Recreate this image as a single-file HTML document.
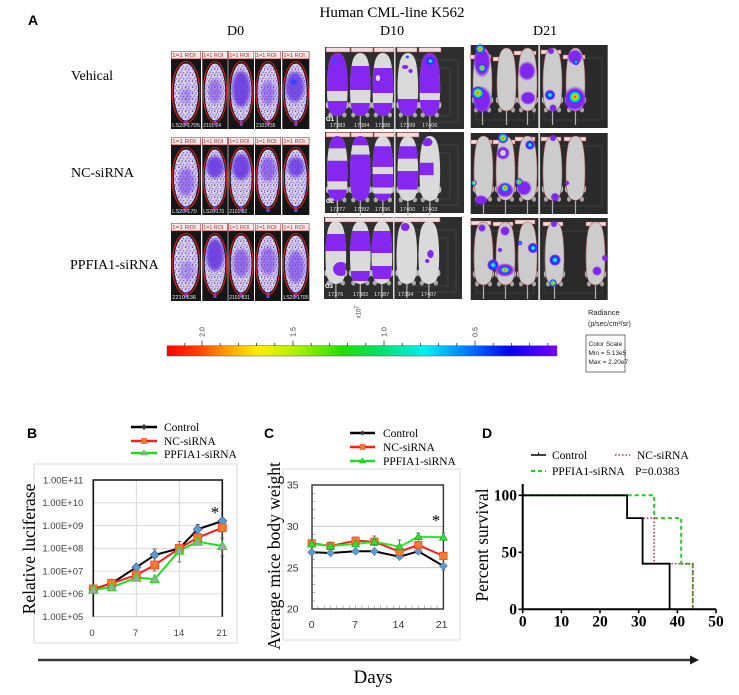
<!DOCTYPE html>
<html><head><meta charset="utf-8"><style>
html,body{margin:0;padding:0;background:#fff;}
svg{display:block;}
</style></head><body>
<svg width="739" height="695" viewBox="0 0 739 695" xmlns="http://www.w3.org/2000/svg" font-family="Liberation Serif, serif">
<defs>
 <pattern id="sp" width="6" height="6" patternUnits="userSpaceOnUse">
  <rect x="0" y="0" width="1.2" height="1.1" fill="#6b3be6"/>
  <rect x="3" y="0.6" width="1.1" height="1.2" fill="#7a45f0"/>
  <rect x="1.5" y="2.6" width="1.4" height="1" fill="#5e2fd8"/>
  <rect x="4.4" y="3" width="1" height="1.2" fill="#7040ea"/>
  <rect x="0.4" y="4.6" width="1.1" height="1.1" fill="#6a3ae4"/>
  <rect x="3" y="4.9" width="1.3" height="0.9" fill="#7b48f2"/>
 </pattern>
 <filter id="bl" x="-50%" y="-50%" width="200%" height="200%"><feGaussianBlur stdDeviation="1.6"/></filter>
 <filter id="bl2" x="-50%" y="-50%" width="200%" height="200%"><feGaussianBlur stdDeviation="0.8"/></filter>
 <radialGradient id="hot"><stop offset="0" stop-color="#ff1000"/><stop offset=".25" stop-color="#ffd000"/><stop offset=".42" stop-color="#30ee20"/><stop offset=".58" stop-color="#00d8ff"/><stop offset=".72" stop-color="#1040ff"/><stop offset=".86" stop-color="#8026f0"/><stop offset="1" stop-color="#8026f0" stop-opacity="0"/></radialGradient>
 <radialGradient id="ring"><stop offset="0" stop-color="#a0e8ff"/><stop offset=".35" stop-color="#00a0ff"/><stop offset=".55" stop-color="#0030ff"/><stop offset=".8" stop-color="#8026f0"/><stop offset="1" stop-color="#8026f0" stop-opacity="0"/></radialGradient>
 <radialGradient id="pur"><stop offset="0" stop-color="#8026f0"/><stop offset=".7" stop-color="#8026f0"/><stop offset="1" stop-color="#8026f0" stop-opacity="0"/></radialGradient>
 <linearGradient id="cb" x1="0" x2="1" y1="0" y2="0">
  <stop offset="0" stop-color="#ff0000"/><stop offset=".08" stop-color="#ff4000"/><stop offset=".15" stop-color="#ff9900"/><stop offset=".23" stop-color="#ffee00"/><stop offset=".33" stop-color="#b0f000"/><stop offset=".45" stop-color="#20e000"/><stop offset=".55" stop-color="#00e070"/><stop offset=".66" stop-color="#00f0f0"/><stop offset=".78" stop-color="#0070ff"/><stop offset=".88" stop-color="#0000f0"/><stop offset="1" stop-color="#7a00ff"/>
 </linearGradient>
 <path id="mb" d="M10.5,0 C15,0 17.5,5 18.5,12 C20.5,24 20.5,44 19,54 C18,60 14.5,63 10.5,63 C6.5,63 3,60 2,54 C0.5,44 0.5,24 2.5,12 C3.5,5 6,0 10.5,0 Z"/>
 <clipPath id="mc"><path d="M10.5,0 C15,0 17.5,5 18.5,12 C20.5,24 20.5,44 19,54 C18,60 14.5,63 10.5,63 C6.5,63 3,60 2,54 C0.5,44 0.5,24 2.5,12 C3.5,5 6,0 10.5,0 Z"/></clipPath>
 <g id="ml">
  <ellipse cx="2" cy="52" rx="2.2" ry="3.5" fill="#b8b8b8"/><ellipse cx="19" cy="52" rx="2.2" ry="3.5" fill="#b8b8b8"/>
  <ellipse cx="4" cy="62" rx="2" ry="2.5" fill="#aaa"/><ellipse cx="17" cy="62" rx="2" ry="2.5" fill="#aaa"/>
  <path d="M10.5,62 L10.5,77" stroke="#b0b0b0" stroke-width="1.2"/>
 </g>
 <g id="d0">
  <rect width="26" height="78" fill="#151515"/>
  <rect x="0.3" y="0.3" width="25.4" height="7.5" fill="#f7eaea" stroke="#c04848" stroke-width=".6"/>
  <text x="1" y="6.2" font-size="5.5" fill="#b52b2b" font-family="Liberation Sans, sans-serif">1=1 ROI</text>
  <ellipse cx="13" cy="41" rx="10.5" ry="28.5" fill="#dadade"/>
  <ellipse cx="13" cy="41" rx="10.5" ry="28.5" fill="url(#sp)"/>
  <rect x="11.5" y="69" width="3" height="6" fill="#5a4cf0"/>
 </g>
 <g id="roi"><ellipse cx="13" cy="41" rx="12" ry="30.5" fill="none" stroke="#d42020" stroke-width="1.1"/></g>
</defs>

<rect width="739" height="695" fill="#fff"/>

<!-- Titles -->
<text x="28" y="25" font-family="Liberation Sans, sans-serif" font-weight="bold" font-size="14">A</text>
<text x="392" y="17" text-anchor="middle" font-size="15">Human CML-line K562</text>
<text x="227" y="35" font-size="14">D0</text>
<text x="380" y="35" font-size="14">D10</text>
<text x="533" y="35" font-size="14">D21</text>
<text x="71" y="80" font-size="14">Vehical</text>
<text x="71" y="177" font-size="14">NC-siRNA</text>
<text x="70" y="269" font-size="14">PPFIA1-siRNA</text>

<!-- D0 panels -->
<g font-family="Liberation Sans, sans-serif">
<g transform="translate(171,51) scale(1.154,1)"><use href="#d0"/><ellipse cx="13" cy="45" rx="5" ry="8" fill="#6d35e6" opacity=".35" filter="url(#bl)"/><use href="#roi"/><text x="1" y="76" font-size="5" fill="#e8e8e8">LS20 1705</text></g>
<g transform="translate(202.3,51) scale(.977,1)"><use href="#d0"/><ellipse cx="13" cy="40" rx="7" ry="12" fill="#6d35e6" opacity=".5" filter="url(#bl)"/><use href="#roi"/><text x="1" y="76" font-size="5" fill="#e8e8e8">2101 24</text></g>
<g transform="translate(228.3,51) scale(.99,1)"><use href="#d0"/><ellipse cx="13" cy="38" rx="9" ry="18" fill="#6430e2" opacity=".85" filter="url(#bl)"/><use href="#roi"/></g>
<g transform="translate(255,51)"><use href="#d0"/><ellipse cx="13" cy="42" rx="7" ry="12" fill="#6d35e6" opacity=".5" filter="url(#bl)"/><use href="#roi"/><text x="1" y="76" font-size="5" fill="#e8e8e8">2101735</text></g>
<g transform="translate(282.3,51) scale(1.04,1)"><use href="#d0"/><ellipse cx="12" cy="36" rx="9" ry="15" fill="#6430e2" opacity=".8" filter="url(#bl)"/><circle cx="11" cy="31" r="3" fill="#3040ff" filter="url(#bl2)"/><use href="#roi"/></g>
<g transform="translate(171,137) scale(1.154,1)"><use href="#d0"/><ellipse cx="13" cy="45" rx="7" ry="14" fill="#6d35e6" opacity=".55" filter="url(#bl)"/><use href="#roi"/><text x="1" y="76" font-size="5" fill="#e8e8e8">LS20 170</text></g>
<g transform="translate(202.3,137) scale(.977,1)"><use href="#d0"/><ellipse cx="13" cy="30" rx="9" ry="11" fill="#6430e2" opacity=".85" filter="url(#bl)"/><use href="#roi"/><text x="1" y="76" font-size="5" fill="#e8e8e8">LS20 170</text></g>
<g transform="translate(228.3,137) scale(.99,1)"><use href="#d0"/><ellipse cx="13" cy="30" rx="9" ry="13" fill="#6430e2" opacity=".85" filter="url(#bl)"/><use href="#roi"/><text x="1" y="76" font-size="5" fill="#e8e8e8">2101 82</text></g>
<g transform="translate(255,137)"><use href="#d0"/><ellipse cx="13" cy="32" rx="8" ry="12" fill="#6d35e6" opacity=".6" filter="url(#bl)"/><use href="#roi"/></g>
<g transform="translate(282.3,137) scale(1.04,1)"><use href="#d0"/><ellipse cx="13" cy="30" rx="8" ry="10" fill="#6430e2" opacity=".8" filter="url(#bl)"/><use href="#roi"/></g>
<g transform="translate(171,223) scale(1.154,1)"><use href="#d0"/><ellipse cx="14" cy="48" rx="6" ry="10" fill="#6d35e6" opacity=".35" filter="url(#bl)"/><use href="#roi"/><text x="1" y="76" font-size="5" fill="#e8e8e8">2210 536</text></g>
<g transform="translate(202.3,223) scale(.977,1)"><use href="#d0"/><ellipse cx="13" cy="32" rx="9" ry="16" fill="#6430e2" opacity=".85" filter="url(#bl)"/><use href="#roi"/></g>
<g transform="translate(228.3,223) scale(.99,1)"><use href="#d0"/><ellipse cx="13" cy="40" rx="8" ry="14" fill="#6d35e6" opacity=".6" filter="url(#bl)"/><use href="#roi"/><text x="1" y="76" font-size="5" fill="#e8e8e8">2101 831</text></g>
<g transform="translate(255,223)"><use href="#d0"/><ellipse cx="13" cy="38" rx="8" ry="14" fill="#6d35e6" opacity=".55" filter="url(#bl)"/><use href="#roi"/></g>
<g transform="translate(282.3,223) scale(1.04,1)"><use href="#d0"/><ellipse cx="13" cy="44" rx="8" ry="16" fill="#6d35e6" opacity=".6" filter="url(#bl)"/><use href="#roi"/><text x="1" y="76" font-size="5" fill="#e8e8e8">LS20 1705</text></g>
</g>

<!-- D10 panels -->
<g font-family="Liberation Sans, sans-serif">
<rect x="325" y="47" width="139" height="82" fill="#2e2e2e"/>
<rect x="325" y="132" width="139" height="81" fill="#2e2e2e"/>
<rect x="324" y="217" width="138" height="82" fill="#2e2e2e"/>
<g stroke="#474747" stroke-width=".8" fill="none">
 <rect x="400" y="60" width="58" height="62"/><rect x="408" y="68" width="42" height="48"/>
 <rect x="400" y="145" width="58" height="60"/><rect x="408" y="153" width="42" height="46"/>
 <rect x="398" y="230" width="58" height="62"/><rect x="406" y="238" width="42" height="48"/>
</g>
<g fill="#f2dede" stroke="#c04848" stroke-width=".5">
 <rect x="326" y="47.5" width="24" height="4.5"/><rect x="351" y="47.5" width="22" height="4.5"/><rect x="374" y="47.5" width="20" height="4.5"/><rect x="397" y="47.5" width="20" height="4.5"/><rect x="419" y="47.5" width="22" height="4.5"/>
 <rect x="326" y="132.5" width="24" height="4.5"/><rect x="351" y="132.5" width="22" height="4.5"/><rect x="374" y="132.5" width="20" height="4.5"/><rect x="397" y="132.5" width="22" height="4.5"/>
 <rect x="325" y="217.5" width="115" height="4.5"/>
</g>
<g transform="translate(326,53) scale(1.08,1)"><use href="#ml"/><use href="#mb" fill="#dadada"/><g clip-path="url(#mc)"><rect y="0" width="21" height="38" fill="#8527f0"/><rect y="48" width="21" height="16" fill="#8527f0"/><circle cx="8" cy="8" r="2" fill="#3050ff"/></g></g>
<g transform="translate(349,53) scale(1.08,1)"><use href="#ml"/><use href="#mb" fill="#dadada"/><g clip-path="url(#mc)"><rect y="13" width="21" height="24" fill="#8527f0"/><rect y="50" width="21" height="14" fill="#8527f0"/></g></g>
<g transform="translate(371.5,53) scale(1.08,1)"><use href="#ml"/><use href="#mb" fill="#dadada"/><g clip-path="url(#mc)"><rect y="15" width="21" height="25" fill="#8527f0"/><rect y="50" width="21" height="14" fill="#8527f0"/><ellipse cx="6" cy="25" rx="2" ry="3" fill="#ddd"/></g></g>
<g transform="translate(396.5,53) scale(1.08,1)"><use href="#ml"/><use href="#mb" fill="#dadada"/><g clip-path="url(#mc)"><ellipse cx="8" cy="14" rx="3" ry="2" fill="#8527f0"/><ellipse cx="13" cy="18" rx="2" ry="2" fill="#8527f0"/><rect y="46" width="21" height="18" fill="#8527f0"/><circle cx="10" cy="4" r="1.5" fill="#3050ff"/></g></g>
<g transform="translate(418.5,53) scale(1.08,1)"><use href="#ml"/><use href="#mb" fill="#dadada"/><g clip-path="url(#mc)"><rect y="0" width="21" height="40" fill="#8527f0"/><rect y="47" width="21" height="17" fill="#8527f0"/><circle cx="11" cy="8" r="5" fill="url(#ring)"/></g></g>
<rect x="394" y="47" width="1.5" height="82" fill="#d8d8d8"/>
<text x="326" y="121" font-size="6" font-weight="bold" fill="#fff">G1</text>
<g font-size="5.5" fill="#e0e0e0"><text x="330" y="127">17383</text><text x="354" y="127">17384</text><text x="375" y="127">17388</text><text x="400" y="127">17399</text><text x="422" y="127">17406</text></g>
<g transform="translate(326,136) scale(1.08,1.03)"><use href="#ml"/><use href="#mb" fill="#dadada"/><g clip-path="url(#mc)"><rect y="0" width="21" height="12" fill="#8527f0"/><rect y="24" width="21" height="20" fill="#8527f0"/><rect y="52" width="21" height="14" fill="#8527f0"/></g></g>
<g transform="translate(349,136) scale(1.08,1.03)"><use href="#ml"/><use href="#mb" fill="#dadada"/><g clip-path="url(#mc)"><rect y="0" width="21" height="9" fill="#8527f0"/><rect y="18" width="21" height="48" fill="#8527f0"/></g></g>
<g transform="translate(371.5,136) scale(1.08,1.03)"><use href="#ml"/><use href="#mb" fill="#dadada"/><g clip-path="url(#mc)"><rect y="10" width="21" height="20" fill="#8527f0"/><rect y="37" width="21" height="13" fill="#8527f0"/><rect y="56" width="21" height="10" fill="#8527f0"/></g></g>
<g transform="translate(396.5,136) scale(1.08,1.03)"><use href="#ml"/><use href="#mb" fill="#dadada"/><g clip-path="url(#mc)"><rect y="10" width="21" height="12" fill="#8527f0"/><rect y="34" width="21" height="18" fill="#8527f0"/></g></g>
<g transform="translate(418.5,136) scale(1.08,1.03)"><use href="#ml"/><use href="#mb" fill="#dadada"/><g clip-path="url(#mc)"><ellipse cx="8" cy="6" rx="5" ry="4" fill="#8527f0"/><rect y="26" width="14" height="12" fill="#8527f0"/></g></g>
<rect x="394" y="132" width="1.5" height="81" fill="#d8d8d8"/>
<text x="326" y="203" font-size="6" font-weight="bold" fill="#fff">G2</text>
<g font-size="5.5" fill="#e0e0e0"><text x="330" y="211">17377</text><text x="354" y="211">17392</text><text x="375" y="211">17396</text><text x="400" y="211">17400</text><text x="422" y="211">17403</text></g>
<g transform="translate(324.5,221) scale(1.08,1)"><use href="#ml"/><use href="#mb" fill="#dadada"/><g clip-path="url(#mc)"><rect y="13" width="21" height="17" fill="#8527f0"/><ellipse cx="15" cy="48" rx="7" ry="7" fill="#8527f0"/></g></g>
<g transform="translate(349,221) scale(1.08,1)"><use href="#ml"/><use href="#mb" fill="#dadada"/><g clip-path="url(#mc)"><rect y="10" width="21" height="20" fill="#8527f0"/><rect y="50" width="21" height="10" fill="#8527f0"/></g></g>
<g transform="translate(370.5,221) scale(1.08,1)"><use href="#ml"/><use href="#mb" fill="#dadada"/><g clip-path="url(#mc)"><rect y="10" width="21" height="22" fill="#8527f0"/><rect y="45" width="21" height="13" fill="#8527f0"/></g></g>
<g transform="translate(395.5,221) scale(1.08,1)"><use href="#ml"/><use href="#mb" fill="#dadada"/><g clip-path="url(#mc)"><ellipse cx="9" cy="6" rx="4" ry="4" fill="#8527f0"/></g></g>
<g transform="translate(417.5,221) scale(1.08,1)"><use href="#ml"/><use href="#mb" fill="#dadada"/><g clip-path="url(#mc)"><ellipse cx="12" cy="33" rx="3" ry="4" fill="#8527f0"/><ellipse cx="9" cy="40" rx="2" ry="2" fill="#8527f0"/></g></g>
<rect x="393" y="217" width="1.5" height="82" fill="#d8d8d8"/>
<text x="325" y="288" font-size="6" font-weight="bold" fill="#fff">G3</text>
<g font-size="5.5" fill="#e0e0e0"><text x="328" y="296">17376</text><text x="353" y="296">17382</text><text x="374" y="296">17387</text><text x="398" y="296">17394</text><text x="421" y="296">17407</text></g>
</g>

<!-- D21 panels -->
<g>
<rect x="470.7" y="45" width="137" height="83" fill="#2a2a2a"/>
<rect x="470.7" y="133" width="137" height="81" fill="#2a2a2a"/>
<rect x="470.7" y="218" width="137" height="82" fill="#2a2a2a"/>
<g stroke="#444" stroke-width=".8" fill="none">
 <rect x="476" y="58" width="58" height="62"/><rect x="544" y="58" width="58" height="62"/>
 <rect x="476" y="146" width="58" height="60"/><rect x="544" y="146" width="58" height="60"/>
 <rect x="476" y="231" width="58" height="62"/><rect x="544" y="231" width="58" height="62"/>
</g>
<g fill="#f2dede" stroke="#c04848" stroke-width=".5">
 <rect x="470" y="55" width="21" height="4"/><rect x="493" y="57" width="20" height="4"/><rect x="514" y="51" width="22" height="4"/><rect x="541" y="50" width="20" height="4"/><rect x="563" y="55" width="22" height="4"/>
 <rect x="471" y="140" width="21" height="4"/><rect x="493" y="140" width="22" height="4"/><rect x="515" y="137" width="20" height="4"/><rect x="541" y="137" width="20" height="4"/><rect x="564" y="137" width="22" height="4"/>
 <rect x="471" y="221" width="20" height="4"/><rect x="493" y="222" width="20" height="4"/><rect x="515" y="220" width="20" height="4"/><rect x="543" y="222" width="20" height="4"/><rect x="586" y="222" width="20" height="4"/>
</g>
<g transform="translate(472,48)"><use href="#ml"/><use href="#mb" fill="#cccccc" stroke="#a05050" stroke-width=".6"/></g>
<g transform="translate(496,48)"><use href="#ml"/><use href="#mb" fill="#cccccc" stroke="#a05050" stroke-width=".6"/></g>
<g transform="translate(517,48)"><use href="#ml"/><use href="#mb" fill="#cccccc" stroke="#a05050" stroke-width=".6"/></g>
<g transform="translate(542,48)"><use href="#ml"/><use href="#mb" fill="#cccccc" stroke="#a05050" stroke-width=".6"/></g>
<g transform="translate(565,48)"><use href="#ml"/><use href="#mb" fill="#cccccc" stroke="#a05050" stroke-width=".6"/></g>
<rect x="538.3" y="45" width="1.8" height="83" fill="#d8d8d8"/>
<g transform="translate(473,136) scale(1,1.02)"><use href="#ml"/><use href="#mb" fill="#cccccc" stroke="#a05050" stroke-width=".6"/></g>
<g transform="translate(495,136) scale(1,1.02)"><use href="#ml"/><use href="#mb" fill="#cccccc" stroke="#a05050" stroke-width=".6"/></g>
<g transform="translate(517,136) scale(1,1.02)"><use href="#ml"/><use href="#mb" fill="#cccccc" stroke="#a05050" stroke-width=".6"/></g>
<g transform="translate(542,136) scale(1,1.02)"><use href="#ml"/><use href="#mb" fill="#cccccc" stroke="#a05050" stroke-width=".6"/></g>
<g transform="translate(565,136) scale(1,1.02)"><use href="#ml"/><use href="#mb" fill="#cccccc" stroke="#a05050" stroke-width=".6"/></g>
<rect x="538.3" y="133" width="1.8" height="81" fill="#d8d8d8"/>
<g transform="translate(473,222)"><use href="#ml"/><use href="#mb" fill="#cccccc" stroke="#a05050" stroke-width=".6"/></g>
<g transform="translate(495,222)"><use href="#ml"/><use href="#mb" fill="#cccccc" stroke="#a05050" stroke-width=".6"/></g>
<g transform="translate(517,222)"><use href="#ml"/><use href="#mb" fill="#cccccc" stroke="#a05050" stroke-width=".6"/></g>
<g transform="translate(544,222)"><use href="#ml"/><use href="#mb" fill="#cccccc" stroke="#a05050" stroke-width=".6"/></g>
<g transform="translate(585,222)"><use href="#ml"/><use href="#mb" fill="#cccccc" stroke="#a05050" stroke-width=".6"/></g>
<rect x="538.3" y="218" width="1.8" height="82" fill="#d8d8d8"/>
<ellipse cx="482" cy="62" rx="9" ry="16" fill="url(#pur)"/>
<ellipse cx="482" cy="100" rx="10" ry="14" fill="url(#pur)"/>
<circle cx="480" cy="49" r="5" fill="url(#hot)"/>
<circle cx="482" cy="68" r="4.5" fill="url(#hot)"/>
<circle cx="478" cy="93" r="7" fill="url(#hot)"/>
<ellipse cx="527" cy="71" rx="9" ry="10" fill="url(#pur)"/>
<ellipse cx="528" cy="98" rx="8" ry="7" fill="url(#pur)"/>
<circle cx="550" cy="95" r="5.5" fill="url(#ring)"/>
<circle cx="553" cy="108" r="4" fill="url(#pur)"/>
<circle cx="551" cy="51" r="3.5" fill="url(#pur)"/>
<ellipse cx="575" cy="57" rx="8" ry="8" fill="url(#pur)"/>
<circle cx="576" cy="62" r="3.5" fill="url(#ring)"/>
<ellipse cx="575" cy="99" rx="12" ry="13" fill="url(#pur)"/>
<circle cx="575" cy="97" r="8" fill="url(#hot)"/>
<circle cx="474" cy="183" r="3" fill="url(#hot)"/>
<ellipse cx="481" cy="200" rx="7" ry="5" fill="url(#pur)"/>
<circle cx="503" cy="153" r="7" fill="url(#pur)"/><circle cx="503" cy="153" r="3" fill="#cfcfcf"/>
<circle cx="503" cy="138" r="5.5" fill="url(#hot)"/>
<ellipse cx="505" cy="190" rx="9" ry="8" fill="url(#pur)"/>
<circle cx="505" cy="188" r="5" fill="url(#hot)"/>
<circle cx="530" cy="145" r="5" fill="url(#ring)"/>
<ellipse cx="524" cy="188" rx="8" ry="8" fill="url(#pur)"/>
<circle cx="519" cy="182" r="4" fill="url(#hot)"/>
<circle cx="553" cy="138" r="3.5" fill="url(#pur)"/>
<circle cx="555" cy="197" r="4.5" fill="url(#pur)"/>
<circle cx="567" cy="183" r="2.5" fill="url(#pur)"/>
<circle cx="482" cy="228" r="4" fill="url(#pur)"/>
<circle cx="493" cy="265" r="6" fill="url(#ring)"/>
<circle cx="505" cy="231" r="5" fill="url(#pur)"/>
<circle cx="500" cy="250" r="2.5" fill="url(#pur)"/>
<ellipse cx="505" cy="270" rx="10" ry="7" fill="url(#pur)"/>
<ellipse cx="505" cy="270" rx="6" ry="4" fill="url(#hot)"/>
<circle cx="533" cy="248" r="5.5" fill="url(#ring)"/>
<circle cx="520" cy="243" r="2.5" fill="url(#ring)"/>
<circle cx="554" cy="224" r="3.5" fill="url(#pur)"/>
<circle cx="555" cy="260" r="6" fill="url(#ring)"/>
<circle cx="553" cy="283" r="4" fill="url(#hot)"/>
<circle cx="597" cy="271" r="5" fill="url(#pur)"/>
<circle cx="605" cy="258" r="3.5" fill="url(#pur)"/>
</g>

<!-- Colorbar -->
<rect x="167" y="345.7" width="390" height="10.3" fill="url(#cb)" stroke="#555" stroke-width=".5"/>
<g stroke="#333" stroke-width=".8">
 <line x1="184.8" y1="343" x2="184.8" y2="345.7"/><line x1="202" y1="340.5" x2="202" y2="345.7"/>
 <line x1="220.2" y1="343" x2="220.2" y2="345.7"/><line x1="238.4" y1="343" x2="238.4" y2="345.7"/><line x1="256.6" y1="343" x2="256.6" y2="345.7"/><line x1="274.8" y1="343" x2="274.8" y2="345.7"/>
 <line x1="293" y1="340.5" x2="293" y2="345.7"/>
 <line x1="311.2" y1="343" x2="311.2" y2="345.7"/><line x1="329.4" y1="343" x2="329.4" y2="345.7"/><line x1="347.6" y1="343" x2="347.6" y2="345.7"/><line x1="365.8" y1="343" x2="365.8" y2="345.7"/>
 <line x1="384" y1="340.5" x2="384" y2="345.7"/>
 <line x1="402.2" y1="343" x2="402.2" y2="345.7"/><line x1="420.4" y1="343" x2="420.4" y2="345.7"/><line x1="438.6" y1="343" x2="438.6" y2="345.7"/><line x1="456.8" y1="343" x2="456.8" y2="345.7"/>
 <line x1="475" y1="340.5" x2="475" y2="345.7"/>
 <line x1="493.2" y1="343" x2="493.2" y2="345.7"/><line x1="511.4" y1="343" x2="511.4" y2="345.7"/><line x1="529.6" y1="343" x2="529.6" y2="345.7"/><line x1="547.8" y1="343" x2="547.8" y2="345.7"/>
</g>
<g font-family="Liberation Sans, sans-serif" font-size="7" fill="#333" text-anchor="middle">
 <text transform="translate(204.5,332) rotate(-90)">2.0</text>
 <text transform="translate(295.5,332) rotate(-90)">1.5</text>
 <text transform="translate(386.5,332) rotate(-90)">1.0</text>
 <text transform="translate(477.5,332) rotate(-90)">0.5</text>
 <text transform="translate(360.5,312) rotate(-90)" font-size="6">x10<tspan dy="-2" font-size="5">7</tspan></text>
</g>
<g font-family="Liberation Sans, sans-serif" fill="#222">
 <text x="588" y="315" font-size="7.5">Radiance</text>
 <text x="588" y="326" font-size="7">(p/sec/cm²/sr)</text>
 <rect x="586" y="335" width="39" height="37" fill="#fff" stroke="#555" stroke-width=".8"/>
 <text x="588.5" y="346" font-size="6.5">Color Scale</text>
 <text x="588.5" y="355" font-size="6.5">Min = 5.13e5</text>
 <text x="588.5" y="364" font-size="6.5">Max = 2.20e7</text>
</g>

<!-- Panel B -->
<text x="27" y="438" font-family="Liberation Sans, sans-serif" font-weight="bold" font-size="14">B</text>
<g>
 <line x1="131" y1="427" x2="157" y2="427" stroke="#000" stroke-width="2.5"/>
 <polygon points="144,424 147,427 144,430 141,427" fill="#333"/>
 <line x1="131" y1="441" x2="157" y2="441" stroke="#ff1a1a" stroke-width="2.5"/>
 <rect x="141.5" y="438.5" width="5" height="5" fill="#ed7d31" stroke="#ff3b1f" stroke-width=".6"/>
 <line x1="131" y1="453" x2="157" y2="453" stroke="#22dd22" stroke-width="2.5"/>
 <polygon points="144,450 147,455 141,455" fill="#a5a5a5" stroke="#22dd22" stroke-width=".6"/>
 <g font-size="11.5"><text x="164" y="431">Control</text><text x="164" y="445">NC-siRNA</text><text x="164" y="458">PPFIA1-siRNA</text></g>
</g>
<rect x="34" y="464" width="203" height="179" fill="#fff" stroke="#dadada" stroke-width="1"/>
<g stroke="#d0d0d0" stroke-width=".8">
 <line x1="93.3" y1="502.8" x2="222.3" y2="502.8"/><line x1="93.3" y1="525.5" x2="222.3" y2="525.5"/><line x1="93.3" y1="548.3" x2="222.3" y2="548.3"/><line x1="93.3" y1="571.1" x2="222.3" y2="571.1"/><line x1="93.3" y1="593.9" x2="222.3" y2="593.9"/>
 <line x1="136.3" y1="480" x2="136.3" y2="616.7"/><line x1="179.3" y1="480" x2="179.3" y2="616.7"/>
</g>
<line x1="93.3" y1="616.7" x2="222.3" y2="616.7" stroke="#bfbfbf" stroke-width="1"/>
<polyline points="93.3,616.7 93.3,480 222.3,480 222.3,616.7" fill="none" stroke="#111" stroke-width="1.6"/>
<g font-family="Liberation Sans, sans-serif" font-size="9.5" fill="#404040" text-anchor="end">
 <text x="83.3" y="483.3">1.00E+11</text><text x="83.3" y="506.1">1.00E+10</text><text x="83.3" y="528.8">1.00E+09</text><text x="83.3" y="551.6">1.00E+08</text><text x="83.3" y="574.4">1.00E+07</text><text x="83.3" y="597.2">1.00E+06</text><text x="83.3" y="620">1.00E+05</text>
</g>
<g font-family="Liberation Sans, sans-serif" font-size="9.5" fill="#404040" text-anchor="middle">
 <text x="92" y="636">0</text><text x="135.5" y="636">7</text><text x="179" y="636">14</text><text x="221.7" y="636">21</text>
</g>
<g stroke="#555" stroke-width=".8">
 <line x1="154.7" y1="549" x2="154.7" y2="561"/><line x1="152.7" y1="549" x2="156.7" y2="549"/>
 <line x1="154.7" y1="560" x2="154.7" y2="571"/><line x1="152.7" y1="571" x2="156.7" y2="571"/>
 <line x1="179.3" y1="541.5" x2="179.3" y2="562"/><line x1="177.3" y1="541.5" x2="181.3" y2="541.5"/><line x1="177.3" y1="562" x2="181.3" y2="562"/>
 <line x1="197.7" y1="524.5" x2="197.7" y2="533"/><line x1="195.7" y1="524.5" x2="199.7" y2="524.5"/>
 <line x1="222.3" y1="517" x2="222.3" y2="556"/><line x1="220.3" y1="556" x2="224.3" y2="556"/><line x1="220.3" y1="538" x2="224.3" y2="538"/>
</g>
<polyline points="93.3,589 111.7,583.3 136.3,567.3 154.7,555 179.3,548.3 197.7,529.3 222.3,521" fill="none" stroke="#000" stroke-width="2"/>
<polyline points="93.3,589 111.7,583.3 136.3,575 154.7,565 179.3,548.3 197.7,537.7 222.3,527.7" fill="none" stroke="#ff1a1a" stroke-width="2"/>
<polyline points="93.3,589.7 111.7,587.3 136.3,577.7 154.7,579 179.3,550.7 197.7,541.7 222.3,546" fill="none" stroke="#22dd22" stroke-width="2"/>
<g fill="#5b9bd5" stroke="#2f4f7f" stroke-width=".6">
 <polygon points="93.3,584.5 97.8,589 93.3,593.5 88.8,589"/><polygon points="111.7,578.8 116.2,583.3 111.7,587.8 107.2,583.3"/><polygon points="136.3,562.8 140.8,567.3 136.3,571.8 131.8,567.3"/><polygon points="154.7,550.5 159.2,555 154.7,559.5 150.2,555"/><polygon points="179.3,543.8 183.8,548.3 179.3,552.8 174.8,548.3"/><polygon points="197.7,524.8 202.2,529.3 197.7,533.8 193.2,529.3"/><polygon points="222.3,516.5 226.8,521 222.3,525.5 217.8,521"/>
</g>
<g fill="#ed7d31" stroke="#ff3b1f" stroke-width=".8">
 <rect x="89.3" y="585" width="8" height="8"/><rect x="107.7" y="579.3" width="8" height="8"/><rect x="132.3" y="571" width="8" height="8"/><rect x="150.7" y="561" width="8" height="8"/><rect x="175.3" y="544.3" width="8" height="8"/><rect x="193.7" y="533.7" width="8" height="8"/><rect x="218.3" y="523.7" width="8" height="8"/>
</g>
<g fill="#a5a5a5" stroke="#22dd22" stroke-width="1">
 <polygon points="93.3,585.2 97.8,593.2 88.8,593.2"/><polygon points="111.7,582.8 116.2,590.8 107.2,590.8"/><polygon points="136.3,573.2 140.8,581.2 131.8,581.2"/><polygon points="154.7,574.5 159.2,582.5 150.2,582.5"/><polygon points="179.3,546.2 183.8,554.2 174.8,554.2"/><polygon points="197.7,537.2 202.2,545.2 193.2,545.2"/><polygon points="222.3,541.5 226.8,549.5 217.8,549.5"/>
</g>
<text x="215" y="518" font-size="17" text-anchor="middle">*</text>
<text transform="translate(35,549) rotate(-90)" text-anchor="middle" font-size="17.5">Relative luciferase</text>

<!-- Panel C -->
<text x="264" y="438" font-family="Liberation Sans, sans-serif" font-weight="bold" font-size="14">C</text>
<g>
 <line x1="350" y1="433" x2="375" y2="433" stroke="#000" stroke-width="2.5"/>
 <polygon points="362.5,430.5 365,433 362.5,435.5 360,433" fill="#333"/>
 <line x1="350" y1="447" x2="375" y2="447" stroke="#ff1a1a" stroke-width="2.5"/>
 <rect x="360" y="444.5" width="5" height="5" fill="#ed7d31" stroke="#ff3b1f" stroke-width=".6"/>
 <line x1="350" y1="461" x2="375" y2="461" stroke="#22dd22" stroke-width="2.5"/>
 <polygon points="362.5,458 365.5,463 359.5,463" fill="#33dd33" stroke="#119911" stroke-width=".5"/>
 <g font-size="11.5"><text x="383" y="437">Control</text><text x="383" y="451">NC-siRNA</text><text x="383" y="465">PPFIA1-siRNA</text></g>
</g>
<rect x="283" y="469" width="177" height="171" fill="#fff" stroke="#dadada" stroke-width="1"/>
<g stroke="#bdbdbd" stroke-width=".8">
 <line x1="312" y1="526.4" x2="443.4" y2="526.4"/><line x1="312" y1="567.7" x2="443.4" y2="567.7"/>
</g>
<g stroke="#888" stroke-width=".6">
 <path d="M312,493.3h3M312,501.5h3M312,509.8h3M312,518.1h3M312,534.7h3M312,543h3M312,551.3h3M312,559.6h3M312,576h3M312,584.3h3M312,592.6h3M312,600.9h3"/>
 <path d="M318,609v-3.5M324.2,609v-3.5M330.5,609v-3.5M336.8,609v-3.5M343,609v-3.5M349.3,609v-3.5M355.6,609v-3.5M361.9,609v-3.5M368.2,609v-3.5M374.4,609v-3.5M380.7,609v-3.5M387,609v-3.5M393.2,609v-3.5M399.5,609v-3.5M405.8,609v-3.5M412,609v-3.5M418.3,609v-3.5M424.6,609v-3.5M430.9,609v-3.5M437.1,609v-3.5"/>
</g>
<rect x="312" y="485" width="131.4" height="124" fill="none" stroke="#333" stroke-width="1.4"/>
<g font-family="Liberation Sans, sans-serif" font-size="10.5" fill="#333" text-anchor="end">
 <text x="298.5" y="488.7">35</text><text x="298.5" y="530">30</text><text x="298.5" y="571.4">25</text><text x="298.5" y="612.7">20</text>
</g>
<g font-family="Liberation Sans, sans-serif" font-size="10.5" fill="#333" text-anchor="middle">
 <text x="311.7" y="628">0</text><text x="355" y="628">7</text><text x="398.5" y="628">14</text><text x="441.7" y="628">21</text>
</g>
<g stroke="#555" stroke-width=".8">
 <path d="M311.7,540v9M309.7,540h4M330.5,542v9M328.5,542h4M355.6,537v9M353.6,537h4M374.4,536v10M372.4,536h4M399.5,540v14M397.5,540h4M418.3,533v8M416.3,533h4M443.4,533v8M441.4,533h4"/>
 <path d="M311.7,549v7M330.5,550v7M355.6,548v7M374.4,548v8M399.5,553v7M418.3,548v7M443.4,562v8M441.4,570h4"/>
</g>
<polyline points="311.7,552.3 330.5,553 355.6,551.3 374.4,551.3 399.5,556.7 418.3,551.3 443.4,566" fill="none" stroke="#000" stroke-width="2"/>
<polyline points="311.7,543.3 330.5,546 355.6,540.7 374.4,541.7 399.5,551.7 418.3,545 443.4,556" fill="none" stroke="#ff1a1a" stroke-width="2"/>
<polyline points="311.7,544 330.5,546 355.6,544 374.4,541.7 399.5,546.7 418.3,536.7 443.4,537.3" fill="none" stroke="#22ee22" stroke-width="2"/>
<g fill="#5b9bd5" stroke="#2f4f7f" stroke-width=".5">
 <polygon points="311.7,548.3 315.7,552.3 311.7,556.3 307.7,552.3"/><polygon points="330.5,549 334.5,553 330.5,557 326.5,553"/><polygon points="355.6,547.3 359.6,551.3 355.6,555.3 351.6,551.3"/><polygon points="374.4,547.3 378.4,551.3 374.4,555.3 370.4,551.3"/><polygon points="399.5,552.7 403.5,556.7 399.5,560.7 395.5,556.7"/><polygon points="418.3,547.3 422.3,551.3 418.3,555.3 414.3,551.3"/><polygon points="443.4,562 447.4,566 443.4,570 439.4,566"/>
</g>
<g fill="#ed7d31" stroke="#ff3b1f" stroke-width=".7">
 <rect x="308" y="539.6" width="7.4" height="7.4"/><rect x="326.8" y="542.3" width="7.4" height="7.4"/><rect x="351.9" y="537" width="7.4" height="7.4"/><rect x="370.7" y="538" width="7.4" height="7.4"/><rect x="395.8" y="548" width="7.4" height="7.4"/><rect x="414.6" y="541.3" width="7.4" height="7.4"/><rect x="439.7" y="552.3" width="7.4" height="7.4"/>
</g>
<g fill="#33dd33" stroke="#1aa01a" stroke-width=".6">
 <polygon points="311.7,540 315.7,547 307.7,547"/><polygon points="330.5,542 334.5,549 326.5,549"/><polygon points="355.6,540 359.6,547 351.6,547"/><polygon points="374.4,537.7 378.4,544.7 370.4,544.7"/><polygon points="399.5,542.7 403.5,549.7 395.5,549.7"/><polygon points="418.3,532.7 422.3,539.7 414.3,539.7"/><polygon points="443.4,533.3 447.4,540.3 439.4,540.3"/>
</g>
<text x="436" y="526" font-size="17" text-anchor="middle">*</text>
<text transform="translate(280,556) rotate(-90)" text-anchor="middle" font-size="17.5">Average mice body weight</text>

<!-- Panel D -->
<text x="482" y="438" font-family="Liberation Sans, sans-serif" font-weight="bold" font-size="14">D</text>
<line x1="531" y1="455" x2="546" y2="455" stroke="#000" stroke-width="1.5"/><line x1="538.5" y1="452.5" x2="538.5" y2="455" stroke="#000" stroke-width="1"/>
<line x1="615" y1="455" x2="630" y2="455" stroke="#b03030" stroke-width="1.5" stroke-dasharray="1.5,2"/>
<line x1="531" y1="471" x2="546" y2="471" stroke="#22cc22" stroke-width="2" stroke-dasharray="4,3"/>
<g font-size="11.5"><text x="552" y="459">Control</text><text x="637" y="459">NC-siRNA</text><text x="552" y="475">PPFIA1-siRNA</text><text x="635" y="475">P=0.0383</text></g>
<path d="M522.7,495.3 H654.1 V518.1 H681.2 V563.7 H692.8 V609.3" fill="none" stroke="#22cc22" stroke-width="2" stroke-dasharray="4,3"/>
<path d="M522.7,495.3 H627.1 V518.1 H654.1 V563.7 H692.8 V609.3" fill="none" stroke="#b03030" stroke-width="1.5" stroke-dasharray="1.5,2"/>
<path d="M522.7,495.3 H627.1 V518.1 H642.6 V563.7 H669.6 V609.3" fill="none" stroke="#000" stroke-width="1.8"/>
<path d="M522.7,484 V609.3 H716" fill="none" stroke="#000" stroke-width="2"/>
<path d="M518.5,495.3h4.2M518.5,552.3h4.2M518.5,609.3h4.2M522.7,609.3v4M561.4,609.3v4M600,609.3v4M638.7,609.3v4M677.4,609.3v4M716,609.3v4" stroke="#000" stroke-width="1.6"/>
<g font-weight="bold" font-size="15.5" text-anchor="end">
 <text x="517" y="500.5">100</text><text x="517" y="557.5">50</text><text x="517" y="614.5">0</text>
</g>
<g font-weight="bold" font-size="15.5" text-anchor="middle">
 <text x="522.7" y="626.5">0</text><text x="561.4" y="626.5">10</text><text x="600" y="626.5">20</text><text x="638.7" y="626.5">30</text><text x="677.4" y="626.5">40</text><text x="716" y="626.5">50</text>
</g>
<text transform="translate(488,545) rotate(-90)" text-anchor="middle" font-size="17.5">Percent survival</text>

<!-- Days arrow -->
<line x1="38" y1="660" x2="691" y2="660" stroke="#3a3a3a" stroke-width="2.5"/>
<polygon points="690,655.5 699,660 690,664.5" fill="#1a1a1a"/>
<text x="373" y="683" text-anchor="middle" font-size="19">Days</text>
</svg>
</body></html>
